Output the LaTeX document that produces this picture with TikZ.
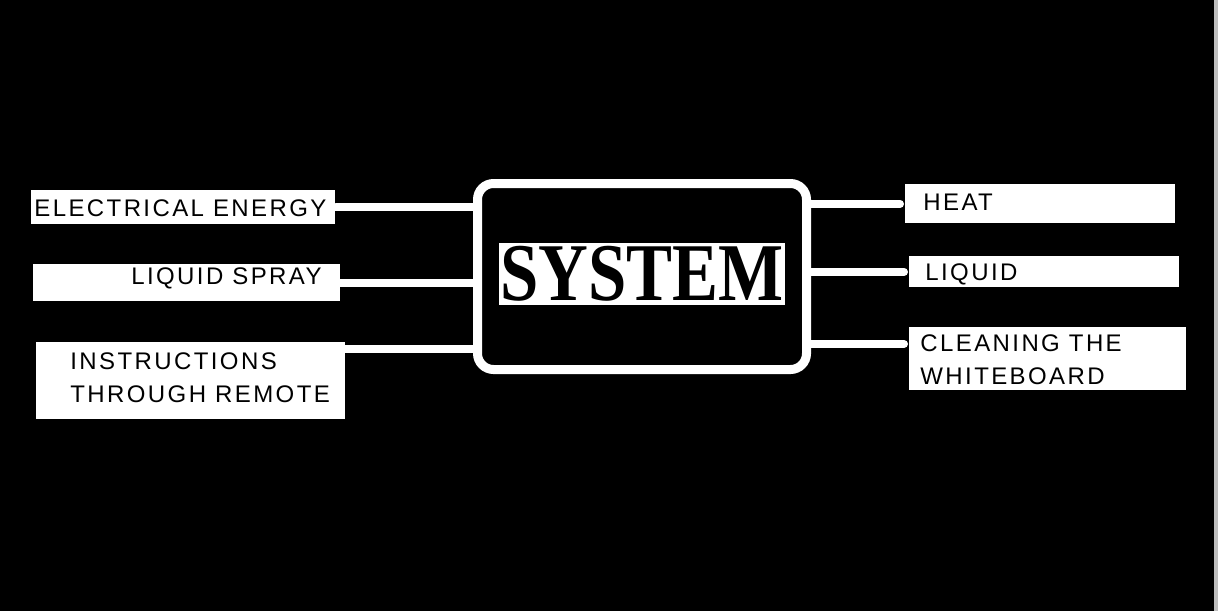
\documentclass[tikz,border=0pt]{standalone}
\usepackage{fontspec}
\usepackage{tikz,graphicx}
\usetikzlibrary{calc}
\newfontfamily\labelfont{Liberation Sans}[LetterSpace=10]
\newfontfamily\titlefont{Liberation Serif}
\tikzset{
  inbox/.style={fill=white, inner sep=0pt, anchor=north west},
  boxtext/.style={text=black, inner sep=0pt, align=left, font=\labelfont\fontsize{12}{16.5}\selectfont},
  link/.style={white, line width=4pt, line cap=round},
  sysframe/.style={draw=white, line width=4.5pt, rounded corners=8pt, fill=black, inner sep=0pt}
}

\begin{document}
\begin{tikzpicture}[x=0.5pt,y=-0.5pt]
              \fill[black] (0,0) rectangle (1218,611);
              \useasboundingbox (0,0) rectangle (1218,611);
              \fill[gray!50] (1214,0) rectangle (1218,611);

              % inputs
              \node[inbox, minimum width=152pt, minimum height=17pt] (ee) at (31,190) {};
                \node[boxtext, anchor=west] (eetext) at (34,208) {ELECTRICAL ENERGY};
              \node[inbox, minimum width=153.5pt, minimum height=18.5pt] (ls) at (33,264) {};
                \node[boxtext, anchor=east] (lstext) at (322,278.5) {LIQUID SPRAY};
              \node[inbox, minimum width=154.5pt, minimum height=38.5pt] (in) at (36,342) {};
                \node[boxtext, anchor=west] (intext) at (70,377.5) {INSTRUCTIONS\\THROUGH REMOTE};

              % outputs
              \node[inbox, minimum width=135pt, minimum height=19.5pt] (heat) at (905,184) {};
                \node[boxtext, anchor=west] (heattext) at (923,202.5) {HEAT};
              \node[inbox, minimum width=135pt, minimum height=15.5pt] (liq) at (909,256) {};
                \node[boxtext, anchor=west] (liqtext) at (925,274) {LIQUID};
              \node[inbox, minimum width=138.5pt, minimum height=31.5pt] (cw) at (909,327) {};
                \node[boxtext, anchor=west] (cwtext) at (920,360) {CLEANING THE\\WHITEBOARD};

              \node[sysframe, minimum width=164.5pt, minimum height=93pt] (sys) at (642,276.5) {};
              \node[fill=white, text=black, inner sep=0pt, minimum width=143pt, minimum height=31pt,
                    font=\titlefont\bfseries\fontsize{41}{41}\selectfont] (title) at (642,274) {\scalebox{0.84}[1]{SYSTEM}};

              \coordinate (inend) at ($(in.north east)+(0,7)$);
              \coordinate (cwend) at ($(cw.north west)+(0,17)$);

              \draw[link] (ee.east) -- (ee.east -| sys.west);
              \draw[link] (ls.east) -- (ls.east -| sys.west);
              \draw[link] (inend) -- (inend -| sys.west);

              \draw[link, shorten >=2.5pt] (sys.east |- heat.west) -- (heat.west);
              \draw[link, shorten >=2.5pt] (sys.east |- liq.west) -- (liq.west);
              \draw[link, shorten >=2.5pt] (cwend -| sys.east) -- (cwend);

            \end{tikzpicture}
\end{document}
